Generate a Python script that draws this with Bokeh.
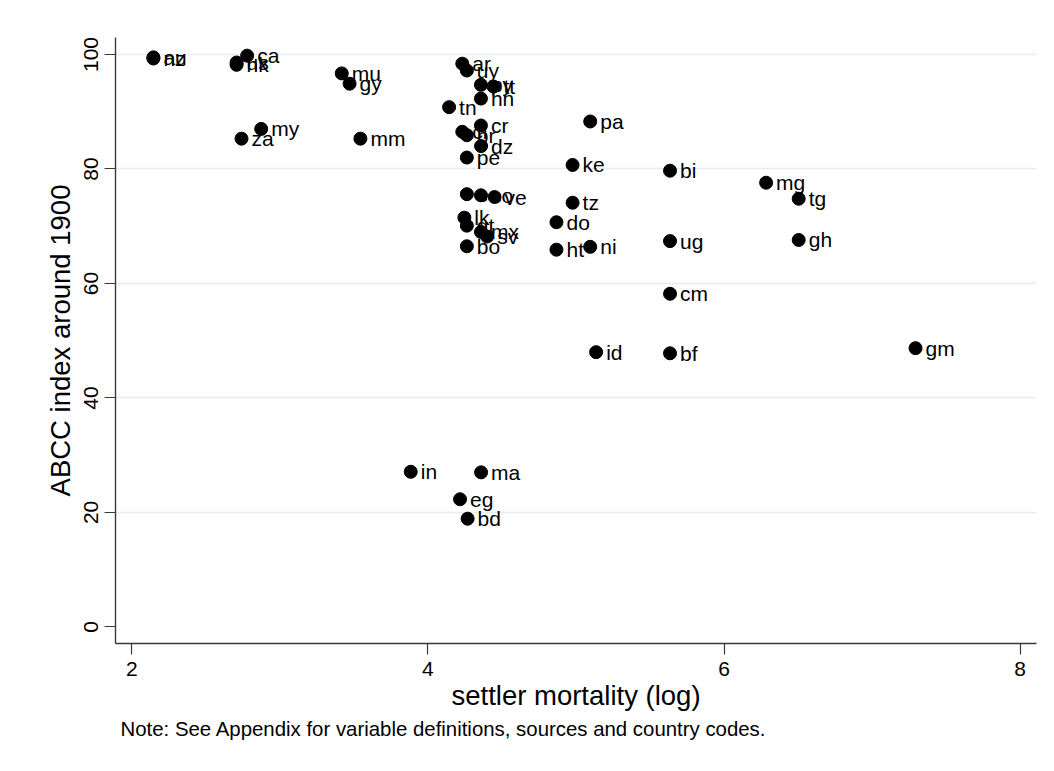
from bokeh.plotting import figure
from bokeh.layouts import column
from bokeh.models import Range1d, FixedTicker, ColumnDataSource, Title, Span
from bokeh.core.properties import value
from bokeh.embed import file_html
from bokeh.resources import INLINE

# Country codes, log settler mortality and ABCC index around 1900
codes = ["au", "nz", "us", "hk", "ca", "mu", "gy", "my", "za", "mm",
         "ar", "uy", "py", "tt", "hn", "tn", "cr", "cl", "br", "dz",
         "pe", "pa", "ke", "ec", "co", "ve", "tz", "do", "lk", "gt",
         "mx", "sv", "bo", "ht", "ni", "bi", "mg", "tg", "gh", "ug",
         "cm", "id", "bf", "gm", "in", "ma", "eg", "bd"]
log_mortality = [2.146, 2.146, 2.708, 2.708, 2.779, 3.418, 3.471, 2.874, 2.741, 3.544,
                 4.232, 4.263, 4.358, 4.443, 4.358, 4.143, 4.358, 4.232, 4.263, 4.359,
                 4.263, 5.096, 4.977, 4.263, 4.358, 4.450, 4.977, 4.868, 4.246, 4.263,
                 4.358, 4.400, 4.263, 4.868, 5.096, 5.635, 6.284, 6.504, 6.504, 5.635,
                 5.635, 5.136, 5.635, 7.293, 3.884, 4.359, 4.217, 4.268]
abcc_index = [99.5, 99.3, 98.6, 98.2, 99.8, 96.7, 94.9, 87.0, 85.3, 85.3,
              98.4, 97.2, 94.7, 94.4, 92.3, 90.8, 87.6, 86.5, 85.9, 84.0,
              82.0, 88.3, 80.7, 75.6, 75.4, 75.1, 74.1, 70.7, 71.5, 70.1,
              69.0, 68.2, 66.5, 65.9, 66.4, 79.7, 77.6, 74.8, 67.6, 67.4,
              58.2, 48.0, 47.8, 48.7, 27.1, 27.0, 22.3, 18.9]

x_ticks = [2, 4, 6, 8]
y_ticks = [0, 20, 40, 60, 80, 100]
y_grid = [20, 40, 60, 80, 100]

FONT = "Liberation Sans"
AXIS_COLOR = "#3a3a3a"
FRAME_LINE = "#e4edef"

# thin strip carrying the light rule along the top of the graph region
strip = figure(width=1054, height=11, output_backend="svg", toolbar_location=None,
               x_range=Range1d(0, 1), y_range=Range1d(0, 1),
               min_border_left=10, min_border_right=10, min_border_top=0,
               min_border_bottom=0)
strip.axis.visible = False
strip.grid.visible = False
strip.outline_line_color = None
strip.add_layout(Span(location=0.05, dimension="width", line_color=FRAME_LINE,
                      line_width=1.2))

src = ColumnDataSource(dict(x=log_mortality, y=abcc_index, code=codes))

p = figure(width=1054, height=760, output_backend="svg", toolbar_location=None,
           x_range=Range1d(1.89, 8.11), y_range=Range1d(-2.9, 102.97),
           min_border_left=115, min_border_right=18, min_border_top=26,
           min_border_bottom=128)
p.outline_line_color = None
p.background_fill_color = "white"
p.border_fill_color = "white"

# grid: horizontal only, light bluish grey
p.xgrid.grid_line_color = None
p.ygrid.ticker = FixedTicker(ticks=y_grid)
p.ygrid.grid_line_color = FRAME_LINE
p.ygrid.grid_line_width = 1.5

for ax in (p.xaxis[0], p.yaxis[0]):
    ax.axis_line_color = AXIS_COLOR
    ax.axis_line_width = 1.4
    ax.major_tick_line_color = AXIS_COLOR
    ax.major_tick_line_width = 1.2
    ax.major_tick_in = 0
    ax.major_tick_out = 11
    ax.minor_tick_line_color = None
    ax.major_label_text_font = FONT
    ax.major_label_text_font_size = "21px"
    ax.major_label_text_color = "black"
    ax.axis_label_text_font = FONT
    ax.axis_label_text_font_size = "27.5px"
    ax.axis_label_text_font_style = "normal"
    ax.axis_label_text_color = "black"

p.xaxis.ticker = FixedTicker(ticks=x_ticks)
p.yaxis.ticker = FixedTicker(ticks=y_ticks)
p.yaxis.major_label_orientation = "vertical"
p.xaxis.major_label_standoff = 7
p.yaxis.major_label_standoff = 6
p.xaxis.axis_label = "settler mortality (log)"
p.yaxis.axis_label = "ABCC index around 1900"
p.xaxis.axis_label_standoff = 1
p.yaxis.axis_label_standoff = 6

p.scatter("x", "y", source=src, size=13, color="black", line_color="black")
p.text("x", "y", text="code", source=src, x_offset=10,
       text_align="left", text_baseline="middle",
       text_font=value(FONT), text_font_size="21px", text_color="black")

note = Title(text="Note: See Appendix for variable definitions, sources and country codes.",
             align="left", offset=5, text_font=FONT, text_font_size="20.4px",
             text_font_style="normal", text_color="black", standoff=4)
p.add_layout(note, "below")

layout = column(strip, p, spacing=0)
open("out.html", "w").write(file_html(layout, INLINE))
